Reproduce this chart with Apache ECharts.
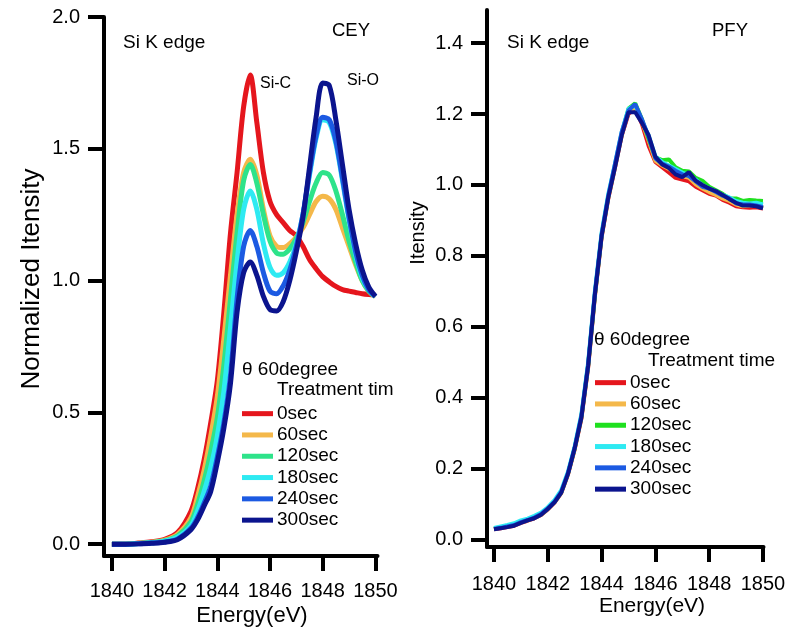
<!DOCTYPE html>
<html lang="en">

<head>
    <meta charset="UTF-8">
    <title>Si K edge CEY / PFY</title>
    <script type="text/javascript" src="https://cdn.jsdelivr.net/npm/echarts@6/dist/echarts.min.js"></script>
</head>

<body style="margin:0;background:#fff;">
    <div id="main" style="width:800px;height:636px;"></div>
    <script>
        // treatment times (legend names)
        var names = ['0sec', '60sec', '120sec', '180sec', '240sec', '300sec'];
        var colorsCEY = ['#e5161d', '#f4b84a', '#2ee38a', '#2eeaf2', '#1c5ae2', '#0b148e'];
        var colorsPFY = ['#e5161d', '#f4b84a', '#1fe01f', '#2eeaf2', '#1c5ae2', '#0b148e'];

        var xTicks = [1840, 1842, 1844, 1846, 1848, 1850];
        var yTicksCEY = [0, 0.5, 1.0, 1.5, 2.0];
        var yTicksPFY = [0, 0.2, 0.4, 0.6, 0.8, 1.0, 1.2, 1.4];

        // CEY energies (eV)
        var energyCEY = [1840, 1840.5, 1841, 1841.5, 1842, 1842.5, 1843, 1843.25, 1843.5, 1843.75,
            1844, 1844.25, 1844.5, 1844.75, 1845, 1845.25, 1845.5, 1845.75, 1846, 1846.25,
            1846.5, 1846.75, 1847, 1847.25, 1847.5, 1847.75, 1848, 1848.25, 1848.5, 1848.75,
            1849, 1849.25, 1849.5, 1849.75, 1850];

        var cey0 = [0, 0, 0.004, 0.009, 0.018, 0.045, 0.125, 0.21, 0.32, 0.46,
            0.62, 0.88, 1.18, 1.41, 1.66, 1.78, 1.60, 1.41, 1.30, 1.25,
            1.22, 1.19, 1.17, 1.13, 1.08, 1.045, 1.015, 0.995, 0.978, 0.966,
            0.96, 0.955, 0.95, 0.947, 0.945];
        var cey60 = [0, 0, 0.003, 0.007, 0.015, 0.038, 0.10, 0.18, 0.28, 0.41,
            0.56, 0.78, 1.02, 1.25, 1.41, 1.46, 1.40, 1.27, 1.17, 1.13,
            1.125, 1.14, 1.165, 1.20, 1.25, 1.30, 1.32, 1.31, 1.27, 1.20,
            1.13, 1.06, 1.00, 0.96, 0.94];
        var cey120 = [0, 0, 0.002, 0.006, 0.013, 0.032, 0.085, 0.15, 0.24, 0.35,
            0.48, 0.68, 0.93, 1.18, 1.38, 1.44, 1.37, 1.25, 1.15, 1.105,
            1.10, 1.12, 1.16, 1.22, 1.30, 1.37, 1.41, 1.40, 1.34, 1.25,
            1.15, 1.07, 1.00, 0.96, 0.94];
        var cey180 = [0, 0, 0.002, 0.005, 0.011, 0.027, 0.07, 0.125, 0.20, 0.29,
            0.41, 0.58, 0.82, 1.07, 1.27, 1.34, 1.27, 1.14, 1.05, 1.02,
            1.03, 1.07, 1.14, 1.25, 1.40, 1.54, 1.61, 1.60, 1.52, 1.38,
            1.23, 1.10, 1.01, 0.965, 0.94];
        var cey240 = [0, 0, 0.001, 0.004, 0.008, 0.02, 0.06, 0.10, 0.155, 0.22,
            0.33, 0.46, 0.64, 0.93, 1.13, 1.19, 1.13, 1.03, 0.96, 0.95,
            0.98, 1.04, 1.13, 1.25, 1.41, 1.55, 1.62, 1.61, 1.53, 1.39,
            1.24, 1.11, 1.02, 0.965, 0.94];
        var cey300 = [0, 0, 0.001, 0.003, 0.007, 0.018, 0.055, 0.092, 0.145, 0.20,
            0.31, 0.44, 0.61, 0.88, 1.03, 1.07, 1.02, 0.94, 0.89, 0.885,
            0.92, 1.00, 1.11, 1.24, 1.43, 1.62, 1.75, 1.74, 1.61, 1.44,
            1.27, 1.14, 1.04, 0.975, 0.94];

        // PFY energies (eV)
        var energyPFY = [1840, 1840.25, 1840.5, 1840.75, 1841, 1841.25, 1841.5, 1841.75, 1842, 1842.25,
            1842.5, 1842.75, 1843, 1843.25, 1843.5, 1843.75, 1844, 1844.25, 1844.5, 1844.75,
            1845, 1845.25, 1845.5, 1845.75, 1846, 1846.25, 1846.5, 1846.75, 1847, 1847.25,
            1847.5, 1847.75, 1848, 1848.25, 1848.5, 1848.75, 1849, 1849.25, 1849.5, 1849.75, 1850];

        var pfy0 = [0.030, 0.033, 0.036, 0.040, 0.048, 0.054, 0.061, 0.070, 0.086, 0.105,
            0.132, 0.184, 0.255, 0.342, 0.485, 0.685, 0.852, 0.962, 1.05, 1.14,
            1.20, 1.215, 1.172, 1.11, 1.065, 1.05, 1.035, 1.02, 1.015, 1.01,
            0.995, 0.985, 0.975, 0.97, 0.958, 0.95, 0.94, 0.937, 0.936, 0.937, 0.934];
        var pfy60 = [0.031, 0.034, 0.037, 0.041, 0.049, 0.055, 0.062, 0.071, 0.087, 0.106,
            0.133, 0.186, 0.257, 0.346, 0.49, 0.69, 0.856, 0.966, 1.052, 1.142,
            1.205, 1.22, 1.178, 1.125, 1.068, 1.055, 1.045, 1.035, 1.025, 1.02,
            1.002, 0.99, 0.98, 0.972, 0.962, 0.955, 0.945, 0.94, 0.942, 0.942, 0.936];
        var pfy120 = [0.032, 0.035, 0.039, 0.043, 0.050, 0.056, 0.063, 0.072, 0.088, 0.107,
            0.134, 0.187, 0.258, 0.348, 0.492, 0.69, 0.858, 0.968, 1.055, 1.145,
            1.215, 1.23, 1.185, 1.13, 1.078, 1.07, 1.072, 1.05, 1.04, 1.038,
            1.02, 1.012, 0.995, 0.985, 0.975, 0.962, 0.962, 0.955, 0.958, 0.956, 0.955];
        var pfy180 = [0.034, 0.038, 0.042, 0.047, 0.055, 0.060, 0.068, 0.077, 0.092, 0.112,
            0.14, 0.192, 0.264, 0.355, 0.50, 0.70, 0.865, 0.975, 1.06, 1.15,
            1.215, 1.225, 1.18, 1.14, 1.08, 1.065, 1.055, 1.045, 1.035, 1.028,
            1.015, 1.0, 0.99, 0.982, 0.972, 0.965, 0.955, 0.95, 0.948, 0.95, 0.945];
        var pfy240 = [0.031, 0.034, 0.038, 0.042, 0.050, 0.056, 0.063, 0.073, 0.089, 0.108,
            0.135, 0.188, 0.26, 0.35, 0.495, 0.695, 0.86, 0.97, 1.06, 1.15,
            1.21, 1.228, 1.185, 1.135, 1.075, 1.06, 1.052, 1.04, 1.03, 1.025,
            1.01, 0.995, 0.99, 0.98, 0.97, 0.962, 0.948, 0.946, 0.945, 0.942, 0.938];
        var pfy300 = [0.030, 0.033, 0.036, 0.040, 0.048, 0.055, 0.061, 0.071, 0.087, 0.106,
            0.133, 0.186, 0.258, 0.345, 0.49, 0.69, 0.855, 0.965, 1.05, 1.14,
            1.205, 1.205, 1.175, 1.14, 1.08, 1.058, 1.048, 1.03, 1.022, 1.036,
            1.012, 1.0, 0.99, 0.983, 0.972, 0.96, 0.95, 0.942, 0.942, 0.94, 0.934];

        var ceyData = [cey0, cey60, cey120, cey180, cey240, cey300];
        var pfyData = [pfy0, pfy60, pfy120, pfy180, pfy240, pfy300];

        var FONT = '"Liberation Sans", Arial, sans-serif';

        function pairs(xs, ys) {
            return xs.map(function (x, i) { return [x, ys[i]]; });
        }

        function xAxis(gridIndex, min, max, margin) {
            return {
                type: 'value', gridIndex: gridIndex, min: min, max: max,
                splitLine: { show: false },
                axisLine: { onZero: false, lineStyle: { color: '#000', width: 4 } },
                axisTick: { customValues: xTicks, length: 15, lineStyle: { color: '#000', width: 4 } },
                axisLabel: {
                    customValues: xTicks, margin: margin, color: '#000', fontSize: 20, fontFamily: FONT,
                    formatter: function (v) { return String(v); }
                }
            };
        }

        function yAxis(gridIndex, min, max, ticks) {
            return {
                type: 'value', gridIndex: gridIndex, min: min, max: max,
                splitLine: { show: false },
                axisLine: { onZero: false, lineStyle: { color: '#000', width: 4 } },
                axisTick: { customValues: ticks, length: 16, lineStyle: { color: '#000', width: 4 } },
                axisLabel: {
                    customValues: ticks, margin: 24, color: '#000', fontSize: 20, fontFamily: FONT,
                    formatter: function (v) { return v.toFixed(1); }
                }
            };
        }

        var series = [];
        names.forEach(function (n, i) {
            series.push({
                name: n, type: 'line', xAxisIndex: 0, yAxisIndex: 0,
                data: pairs(energyCEY, ceyData[i]),
                smooth: 0.3, showSymbol: false, color: colorsCEY[i],
                lineStyle: { width: 5, color: colorsCEY[i] }, z: 2 + i
            });
        });
        names.forEach(function (n, i) {
            series.push({
                name: n, type: 'line', xAxisIndex: 1, yAxisIndex: 1,
                data: pairs(energyPFY, pfyData[i]),
                showSymbol: false, color: colorsPFY[i],
                lineStyle: { width: 4, color: colorsPFY[i] }, z: 2 + i
            });
        });

        function legend(left, top, colors) {
            return {
                orient: 'vertical', left: left, top: top, itemGap: 0,
                itemWidth: 31, itemHeight: 5, icon: 'rect', padding: 0,
                selectedMode: false,
                textStyle: { fontSize: 19, fontFamily: FONT, color: '#000', lineHeight: 21.3, padding: [0, 0, 0, -1] },
                data: names.map(function (n, i) { return { name: n, itemStyle: { color: colors[i] } }; })
            };
        }

        function txt(text, x, y, size, align, rot) {
            return {
                type: 'text', x: x, y: y, rotation: rot || 0, z: 50,
                style: {
                    text: text, font: size + 'px ' + FONT, fill: '#000',
                    textAlign: align || 'left', textVerticalAlign: 'middle'
                }
            };
        }

        var main = document.getElementById('main');
        var myChart = echarts.init(main);
        myChart.setOption({
            animation: false,
            backgroundColor: '#fff',
            grid: [
                { left: 104, top: 17, width: 273.5, height: 539 },
                { left: 487, top: 10, width: 276.5, height: 537 }
            ],
            xAxis: [xAxis(0, 1839.7, 1850.08, 25), xAxis(1, 1839.74, 1850.02, 27)],
            yAxis: [yAxis(0, -0.045, 2.0, yTicksCEY), yAxis(1, -0.02, 1.493, yTicksPFY)],
            legend: [legend(242, 403, colorsCEY), legend(595, 372, colorsPFY)],
            graphic: [
                txt('Normalized Itensity', 32, 279, 26, 'center', Math.PI / 2),
                txt('Energy(eV)', 252, 616, 22, 'center'),
                txt('Si K edge', 123, 43, 19),
                txt('CEY', 332, 31, 18.5),
                txt('Si-C', 260, 84, 16),
                txt('Si-O', 347, 81, 16),
                txt('θ 60degree', 242, 370, 19),
                txt('Treatment tim', 277, 390, 19),
                txt('Itensity', 418, 233, 20, 'center', Math.PI / 2),
                txt('Energy(eV)', 652, 606, 21, 'center'),
                txt('Si K edge', 507, 43, 19),
                txt('PFY', 712, 31, 18.5),
                txt('θ 60degree', 594, 340, 19),
                txt('Treatment time', 648, 361, 19)
            ],
            series: series
        });
    </script>
</body>

</html>
